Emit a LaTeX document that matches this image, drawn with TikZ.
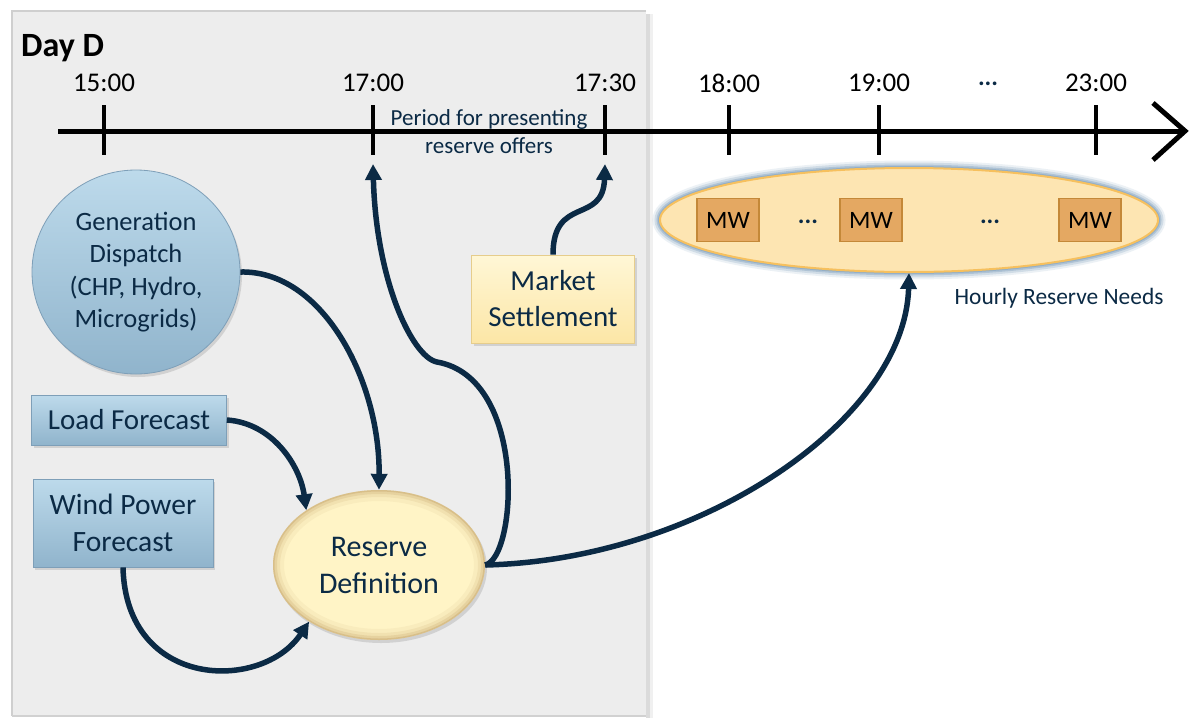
\documentclass[tikz,border=0pt]{standalone}
\usepackage{fontspec}
\setmainfont{Carlito}
\usetikzlibrary{shapes.geometric,arrows.meta,shadows,calc}

\definecolor{navy}{HTML}{0B2A45}
\definecolor{panel}{HTML}{EDEDED}
\definecolor{panelrim}{HTML}{CFCFCF}
\definecolor{bluetop}{HTML}{BDDAEB}
\definecolor{bluebot}{HTML}{90B4CC}
\definecolor{bluerim}{HTML}{7E9FB8}
\definecolor{yellin}{HTML}{FFF4C6}
\definecolor{yellout}{HTML}{C9A870}
\definecolor{msttop}{HTML}{FFF7D6}
\definecolor{mstbot}{HTML}{FCE6A6}
\definecolor{mstrim}{HTML}{E6CD8C}
\definecolor{hourfill}{HTML}{FDE5B2}
\definecolor{hourrim}{HTML}{F6C05E}
\definecolor{hourglow}{HTML}{7F9FBD}
\definecolor{mwfill}{HTML}{E4A862}
\definecolor{mwrim}{HTML}{C48838}

\tikzset{
  lbl/.style={text=navy, align=center, inner sep=0pt},
  timelbl/.style={text=black, font=\fontsize{27}{30}\selectfont, inner sep=0pt},
  tickline/.style={line width=4pt},
  soft/.style={drop shadow={opacity=0.25, shadow xshift=2pt, shadow yshift=-3pt}},
  bluebox/.style={rectangle, soft, top color=bluetop, bottom color=bluebot,
    draw=bluerim, line width=0.8pt, text=navy, align=center, inner sep=0pt},
  mwbox/.style={rectangle, fill=mwfill, draw=mwrim, line width=1.2pt,
    minimum width=62, minimum height=43, inner sep=0pt,
    font=\fontsize{25}{28}\selectfont},
  dots/.style={text=navy, font=\bfseries\fontsize{25}{28}\selectfont, inner sep=0pt},
  arr/.style={draw=navy, line width=5.5pt, -{Triangle[length=16pt,width=16pt]}},
}

\begin{document}
\begin{tikzpicture}[x=1pt,y=-1pt]
\useasboundingbox (0,0) rectangle (1190,718);
\fill[white] (0,0) rectangle (1190,718);

% shaded day panel with its edge shadow
\fill[black!14] (646,14) rectangle (650,718);
\fill[black!6] (650,14) rectangle (653,718);
\fill[panel] (12,11) rectangle (646,716);
\draw[panelrim, line width=2pt] (12,716) -- (12,11) -- (646,11);
\draw[black!18, line width=1.5pt] (12,716) -- (646,716);

\node[anchor=base west, inner sep=0pt, font=\bfseries\fontsize{34}{40}\selectfont]
  (day) at (21,56) {Day D};

% time axis
\draw[line width=5pt] (58,131) -- (1185,131);
\draw[line width=5pt, line join=miter] (1153,103) -- (1185,131) -- (1153,160);

\foreach \x/\t/\n in {104/15:00/a, 373/17:00/b, 605/17:30/c, 729/18:00/d, 879/19:00/e, 1096/23:00/f}{
  \draw[tickline] (\x,105) -- (\x,155);
  \node[timelbl] (time\n) at (\x,83) {\t};
  \coordinate (tick\n) at (\x,164);
}
\node[dots] (topdots) at (988,84) {...};

\node[lbl, font=\fontsize{23}{28}\selectfont] (period) at (489,132)
  {Period for presenting\\reserve offers};

% inputs
\node[ellipse, soft, top color=bluetop, bottom color=bluebot, draw=bluerim,
  line width=0.8pt, minimum width=208, minimum height=204, inner sep=0pt,
  text=navy, align=center, font=\fontsize{26.5}{32.5}\selectfont]
  (gen) at (136,272) {Generation\\Dispatch\\(CHP, Hydro,\\Microgrids)};

\node[bluebox, minimum width=195, minimum height=50,
  font=\fontsize{29}{36}\selectfont] (load) at (129,420) {Load Forecast};

\node[bluebox, minimum width=180, minimum height=88,
  font=\fontsize{29.5}{37}\selectfont] (wind) at (123,523) {Wind Power\\Forecast};

% pale ellipse whose rim darkens softly towards the edge
\node[ellipse, soft, fill=yellin, minimum width=212, minimum height=150, inner sep=0pt,
  text=navy, align=center, font=\fontsize{30}{37}\selectfont,
  path picture={
    \foreach \w/\o in {22/0.10, 14/0.16, 8/0.25, 3/0.45}{
      \draw[yellout, line width=\w pt, opacity=\o]
        (path picture bounding box.center) ellipse [x radius=106, y radius=75];
    }
  }]
  (res) at (379,565) {Reserve\\Definition};

\node[rectangle, soft, top color=msttop, bottom color=mstbot, draw=mstrim,
  line width=0.8pt, minimum width=163, minimum height=88, inner sep=0pt,
  text=navy, align=center, font=\fontsize{29}{36}\selectfont]
  (mkt) at (553,299) {Market\\Settlement};

% hourly reserve needs
\foreach \w/\o in {15/0.14, 11/0.25, 7/0.4, 4/0.55}{
  \draw[hourglow, line width=\w pt, opacity=\o] (909,220) ellipse [x radius=249, y radius=52];
}
\node[ellipse, fill=hourfill, draw=hourrim, line width=2pt,
  minimum width=498, minimum height=104, inner sep=0pt] (hour) at (909,220) {};
\node[mwbox] (mw1) at (728,220) {MW};
\node[mwbox] (mw2) at (871,220) {MW};
\node[mwbox] (mw3) at (1090,220) {MW};
\node[dots] (dots1) at (808,222) {...};
\node[dots] (dots2) at (990,222) {...};
\node[lbl, font=\fontsize{23.4}{28}\selectfont] (needs) at (1059,298) {Hourly Reserve Needs};

% connectors
\draw[arr] (gen.east) .. controls (322,270) and (380,380) .. (res.north);
\draw[arr] (load.east) .. controls (272,423) and (300,465) .. (res.143);
\draw[arr] (wind.south) .. controls (126,690) and (262,692) .. (res.219);
\draw[arr] (res.east) .. controls (517,558) and (528,378) .. (437,362)
  .. controls (412,357) and (376,280) .. (tickb);
\draw[arr] (res.east) .. controls (700,560) and (905,420) .. (hour.south);
\draw[arr] (mkt.north) .. controls (553,195) and (603,225) .. (tickc);

\end{tikzpicture}
\end{document}
